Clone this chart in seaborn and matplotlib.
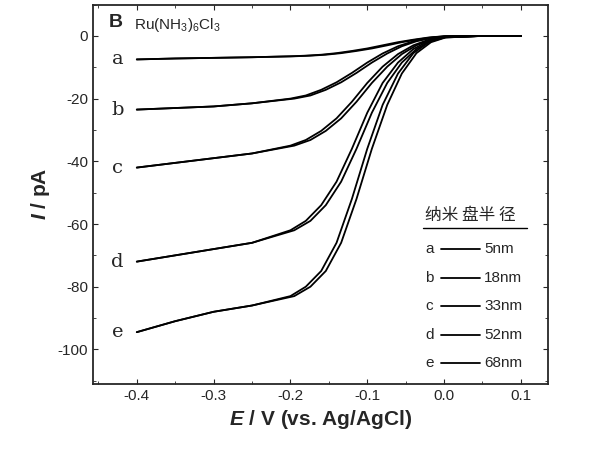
import matplotlib
matplotlib.use("Agg")
import matplotlib.pyplot as plt
import seaborn as sns
import pandas as pd
from matplotlib.ticker import AutoMinorLocator

sns.set_style("ticks")
plt.rcParams['font.family'] = 'sans-serif'
plt.rcParams['font.sans-serif'] = ['Liberation Sans', 'Noto Sans CJK SC', 'DejaVu Sans']
plt.rcParams['mathtext.fontset'] = 'custom'
plt.rcParams['mathtext.rm'] = 'Liberation Sans'
plt.rcParams['mathtext.it'] = 'Liberation Sans:italic:bold'
plt.rcParams['axes.unicode_minus'] = False

# potential grid (V) for forward and reverse scans
E_fwd = [-0.4, -0.35, -0.3, -0.25, -0.2, -0.18, -0.16, -0.14, -0.12, -0.1, -0.08, -0.06, -0.04, -0.02, 0.0, 0.05, 0.1]
E_rev = [-0.4, -0.35, -0.3, -0.25, -0.195, -0.174, -0.154, -0.134, -0.114, -0.094, -0.074, -0.055, -0.036, -0.017, 0.002, 0.05, 0.1]

curves = {
    'a': [-7.5, -7.2, -7.0, -6.8, -6.5, -6.3, -6.0, -5.5, -4.8, -4.0, -3.0, -2.0, -1.2, -0.5, -0.1, 0, 0],
    'b': [-23.5, -23.0, -22.5, -21.5, -20.0, -19.0, -17.2, -14.8, -11.8, -8.5, -5.6, -3.3, -1.7, -0.7, -0.2, 0, 0],
    'c': [-42.0, -40.5, -39.0, -37.5, -35.0, -33.2, -30.3, -26.3, -21.0, -15.0, -9.8, -5.8, -3.0, -1.2, -0.3, 0, 0],
    'd': [-72.0, -70.0, -68.0, -66.0, -62.0, -59.0, -54.0, -46.5, -36.0, -24.5, -15.0, -8.5, -4.2, -1.6, -0.4, 0, 0],
    'e': [-94.5, -91.0, -88.0, -86.0, -83.0, -80.0, -75.0, -66.0, -52.0, -36.0, -22.0, -12.0, -5.5, -2.0, -0.5, 0, 0],
}
sizes = ['5nm', '18nm', '33nm', '52nm', '68nm']

rows = []
for k, vals in curves.items():
    for e, i in zip(E_fwd, vals):
        rows.append((k, 'fwd', e, i))
    for e, i in zip(E_rev, vals):
        rows.append((k, 'rev', e, i))
df = pd.DataFrame(rows, columns=['curve', 'scan', 'E', 'I'])

fig, ax = plt.subplots(figsize=(6, 4.57), dpi=100)
for (k, s), g in df.groupby(['curve', 'scan']):
    sns.lineplot(data=g, x='E', y='I', ax=ax, color='black', lw=1.3, sort=False)

ax.set_xlim(-0.457, 0.135)
ax.set_ylim(-111, 10)
ax.set_xticks([-0.4, -0.3, -0.2, -0.1, 0.0, 0.1])
ax.set_yticks([0, -20, -40, -60, -80, -100])
ax.xaxis.set_minor_locator(AutoMinorLocator(2))
ax.yaxis.set_minor_locator(AutoMinorLocator(2))
ax.tick_params(which='both', direction='in', top=True, right=True, labelsize=11)
for sp in ax.spines.values():
    sp.set_linewidth(1.3)
ax.set_xlabel(r'$\mathit{E}$ / V (vs. Ag/AgCl)', fontsize=15, fontweight='bold')
ax.set_ylabel(r'$\mathit{I}$ / pA', fontsize=15, fontweight='bold')

for k, vals in curves.items():
    ax.text(-0.425, vals[0], k, fontsize=14, family='DejaVu Serif', ha='center', va='center')

ax.text(0.035, 0.975, 'B', transform=ax.transAxes, fontsize=14, fontweight='bold', va='top')
ax.text(0.09, 0.97, r'Ru(NH$_3$)$_6$Cl$_3$', transform=ax.transAxes, fontsize=11, va='top')

ax.text(0.73, 0.445, '纳米 盘半 径', transform=ax.transAxes, fontsize=12, ha='left', va='center',
        family='Noto Sans CJK SC')
ax.plot([0.725, 0.955], [0.41, 0.41], transform=ax.transAxes, color='black', lw=1)
for j, (k, s) in enumerate(zip(curves.keys(), sizes)):
    y = 0.355 - j * 0.075
    ax.text(0.73, y, k, transform=ax.transAxes, fontsize=11, va='center')
    ax.plot([0.765, 0.85], [y, y], transform=ax.transAxes, color='black', lw=1.3)
    ax.text(0.86, y, s, transform=ax.transAxes, fontsize=11, va='center')

plt.subplots_adjust(left=0.155, right=0.913, top=0.99, bottom=0.16)
plt.savefig('out.png', dpi=100)
